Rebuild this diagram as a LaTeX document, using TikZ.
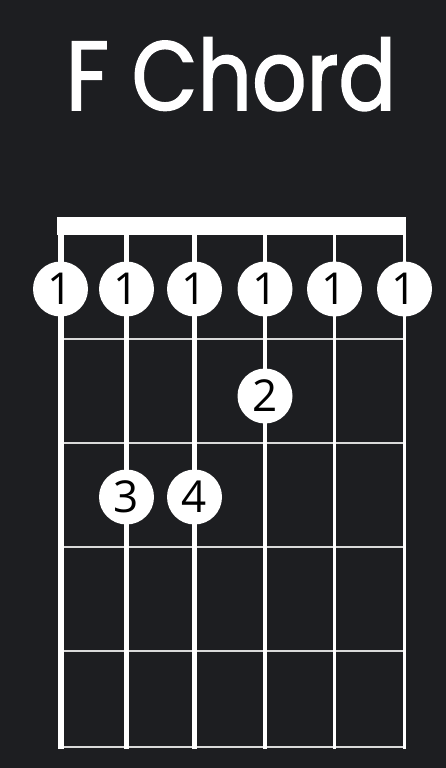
\documentclass[tikz,border=0pt]{standalone}
\usepackage{fontspec}
\setmainfont{Open Sans}
\newfontfamily\titlefont[FakeStretch=0.87,FakeBold=1.6]{Poppins}
\usetikzlibrary{positioning}
\definecolor{board}{RGB}{29,30,33}
\definecolor{fretgray}{RGB}{218,218,218}

\begin{document}
\begin{tikzpicture}[x=1pt,y=-1pt,
  finger/.style={circle,fill=white,minimum size=55pt,inner sep=0pt,
    font=\fontsize{44}{44}\selectfont,text=black}]
 \fill[board] (0,0) rectangle (446,768);
 \node[anchor=base,text=white,font=\titlefont\fontsize{98}{98}\selectfont] (title) at (231,110) {F Chord};
 % frets
 \foreach \y in {339,443,547,651,747}
   \draw[fretgray, line width=2.5pt] (58,\y) -- (405,\y);
 % strings
 \foreach \i/\x/\w in {1/60.5/6,2/126.5/5.5,3/194.5/5,4/265/3.5,5/334.5/3,6/404.5/3}{
   \coordinate (s\i) at (\x,289);
   \draw[white, line width=\w pt] (\x,226) -- (\x,749);
 }
 % nut
 \fill[white] (57,217) rectangle (406,235);
 % barre
 \foreach \i in {1,...,6}
   \node[finger] (b\i) at (s\i) {1};
 % fingers
 \node[finger] (f2) at (265,396) {2};
 \node[finger] (f3) at (126.5,497) {3};
 \node[finger] (f4) at (194.5,497) {4};
\end{tikzpicture}
\end{document}
